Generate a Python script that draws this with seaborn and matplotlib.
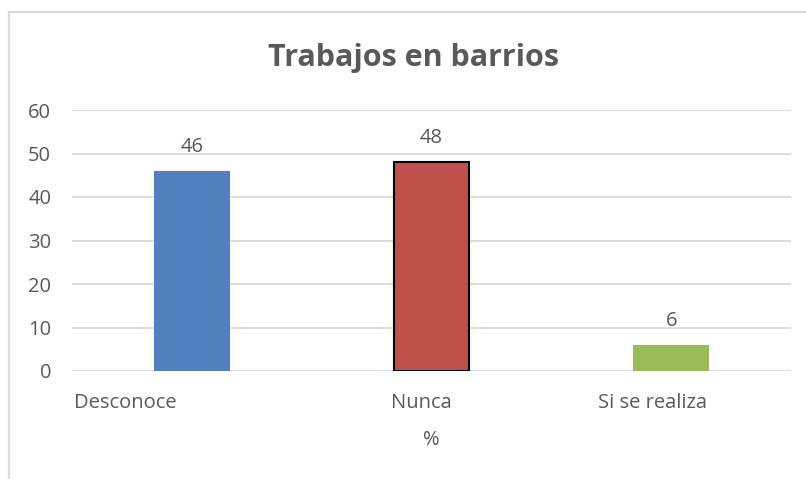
import matplotlib
matplotlib.use("Agg")
import matplotlib.pyplot as plt
import matplotlib.transforms as mtransforms
from matplotlib.patches import Rectangle
import seaborn as sb
import pandas

categories = ['Desconoce', 'Nunca', 'Si se realiza']
values = [46, 48, 6]
clrs = ['#4F81BD', '#C0504D', '#9BBB59']
title = 'Trabajos en barrios'
xlabel = '%'

W, H = 806, 479
txt = '#595959'
grid = '#D9D9D9'

sb.set_style('white')
plt.rcParams['font.family'] = ['Open Sans', 'DejaVu Sans']

df = pandas.DataFrame({'cat': categories, 'val': values})

fig = plt.figure(figsize=(W / 100, H / 100), dpi=100)
ax = fig.add_axes([72 / W, 1 - 371 / H, (791 - 72) / W, (371 - 110) / H])

sb.barplot(data=df, x='cat', y='val', hue='cat', palette=clrs, width=0.317,
           legend=False, ax=ax, saturation=1)

# black outline on the middle bar only
for i, p in enumerate(ax.patches):
    if i == 1:
        p.set_edgecolor('black')
        p.set_linewidth(1.5)
    else:
        p.set_linewidth(0)

ax.set_ylim(0, 60)
ax.set_yticks(range(0, 61, 10))
ax.yaxis.grid(True, color=grid, linewidth=1.3)
ax.set_axisbelow(True)
for s in ax.spines.values():
    s.set_visible(False)
ax.tick_params(axis='both', length=0, colors=txt, labelsize=14.5)
ax.tick_params(axis='y', pad=15)
ax.tick_params(axis='x', pad=16)
ax.set_xlim(-0.5, 2.5)

# Excel-ish odd placement of category labels
shifts = [-67, -10, -19]
for lbl, dx in zip(ax.get_xticklabels(), shifts):
    lbl.set_transform(lbl.get_transform() + mtransforms.ScaledTranslation(dx / 100, 0, fig.dpi_scale_trans))

for i, v in enumerate(values):
    ax.annotate(str(v), (i, v), xytext=(0, 10), textcoords='offset points',
                ha='center', va='bottom', fontsize=14.5, color=txt)

ax.set_xlabel(xlabel, fontsize=14.5, color=txt, labelpad=12)
ax.set_ylabel('')
fig.text(413 / W, 1 - 58 / H, title, ha='center', va='center', fontsize=22,
         fontweight='bold', color=txt)

fig.patches.append(Rectangle((8.5 / W, -0.1), 1.2, 1 - 12.5 / H + 0.1, transform=fig.transFigure,
                             fill=False, edgecolor=grid, linewidth=1.6))

fig.savefig('out.png', dpi=100)
